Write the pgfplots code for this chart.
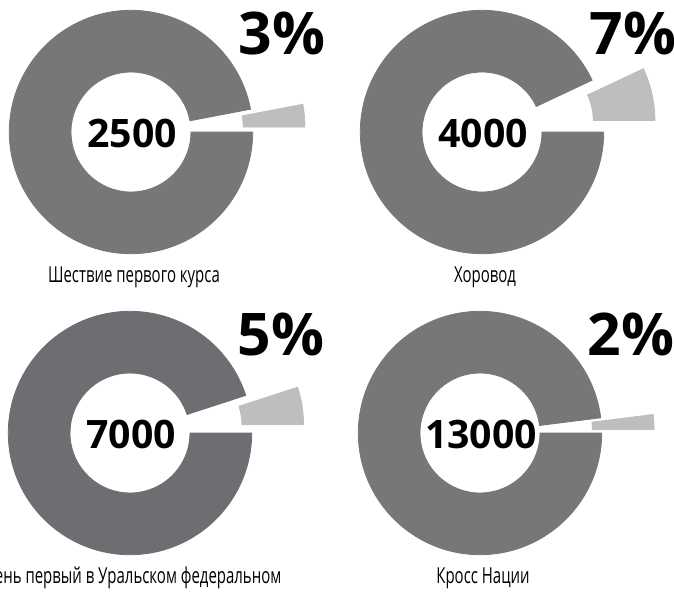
\documentclass[border=0pt]{standalone}
\usepackage{fontspec}
\setmainfont{Open Sans}
\newfontfamily\labfont[FakeStretch=0.68]{Open Sans}
\usepackage{pgfplots}
\usepackage{pgfplotstable}
\pgfplotsset{compat=1.18}

\definecolor{ringA}{HTML}{777777}
\definecolor{ringB}{HTML}{6D6E71}
\definecolor{slicegray}{HTML}{BCBEC0}

% empty mark: the donut is drawn in the scatter marker code
\pgfdeclareplotmark{donut}{}

% centre (px, y downwards), share in %, total, ring colour, caption
\pgfplotstableread[col sep=comma]{
id,x,y,share,total,ring,label
0,131,132,3,2500,ringA,Шествие первого курса
1,482,132,7,4000,ringA,Хоровод
2,130,433,5,7000,ringB,День первый в Уральском федеральном
3,480,433,2,13000,ringA,Кросс Нации
}\donuts

% radii and explode distance in pt
\def\rin{30}
\def\rout{60.85}
\def\explodelen{26.25}

\begin{document}
\begin{tikzpicture}
\begin{axis}[
  name=ax,
  x=0.5pt, y=0.5pt,
  xmin=0, xmax=674, ymin=0, ymax=591,
  y dir=reverse,
  hide axis, clip=false]
\addplot[scatter, only marks, mark=donut,
  point meta=explicit symbolic,
  scatter/@pre marker code/.code={%
    \edef\rowid{\pgfplotspointmeta}%
    \pgfplotstablegetelem{\rowid}{share}\of\donuts \let\share\pgfplotsretval
    \pgfplotstablegetelem{\rowid}{total}\of\donuts \let\total\pgfplotsretval
    \pgfplotstablegetelem{\rowid}{ring}\of\donuts \let\ringcol\pgfplotsretval
    \pgfplotstablegetelem{\rowid}{label}\of\donuts \let\lab\pgfplotsretval
    \pgfmathsetmacro\ang{3.6*\share}%
    \pgfmathsetmacro\dx{\explodelen*cos(\ang/2)}%
    \pgfmathsetmacro\dy{\explodelen*sin(\ang/2)}%
    \pgfmathsetmacro\ax{\dx+\rin}%
    \pgfmathsetmacro\bx{\dx+\rout*cos(\ang)}%
    \pgfmathsetmacro\by{\dy+\rout*sin(\ang)}%
    \fill[\ringcol] (\ang:\rin pt) arc[start angle=\ang, end angle=360, radius=\rin pt]
      -- (0:\rout pt) arc[start angle=360, end angle=\ang, radius=\rout pt] -- cycle;
    \fill[slicegray] (\ax pt,\dy pt) arc[start angle=0, end angle=\ang, radius=\rin pt]
      -- (\bx pt,\by pt) arc[start angle=\ang, end angle=0, radius=\rout pt] -- cycle;
    \node[anchor=base, inner sep=0pt, font=\bfseries\fontsize{19.6}{20}\selectfont] at (0.5pt,-7.5pt) {\total};
    \node[anchor=base, inner sep=0pt, font=\bfseries\fontsize{29.4}{30}\selectfont] at (75.5pt,38.75pt) {\share\%};
    \node[anchor=base, inner sep=0pt, font=\labfont\fontsize{11}{12}\selectfont] at (1.5pt,-75.25pt) {\lab};
  },
  scatter/@post marker code/.code={},
] table[x=x, y=y, meta=id] {\donuts};
\end{axis}
\pgfresetboundingbox
\useasboundingbox (ax.south west) rectangle (ax.north east);
\end{tikzpicture}
\end{document}
